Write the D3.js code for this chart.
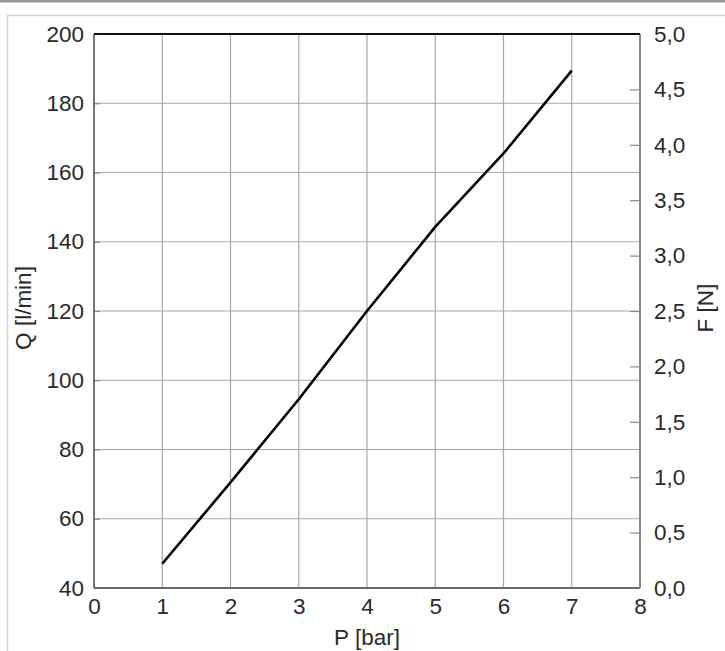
<!DOCTYPE html>
<meta http-equiv="Content-Type" content="text/html; charset=utf-8">
<body style="margin:0;background:#fff">
<script src="https://d3js.org/d3.v7.min.js" charset="utf-8"></script>
<script>
var W = 725, H = 651;
var pressure = [1, 2, 3, 4, 5, 6, 7];
var flow = [47, 70.5, 94.5, 120, 144.3, 165.5, 189.4];
var xTicks = [0, 1, 2, 3, 4, 5, 6, 7, 8];
var qTicks = [40, 60, 80, 100, 120, 140, 160, 180, 200];
var fTicks = [0, 0.5, 1, 1.5, 2, 2.5, 3, 3.5, 4, 4.5, 5];

var m = {left: 94, right: 640, top: 34, bottom: 588};
var font = "'Liberation Sans', Arial, sans-serif";
var fs = 22.5;

var svg = d3.select("body").append("svg").attr("width", W).attr("height", H);

// page frame
svg.append("rect").attr("x", 0).attr("y", 0).attr("width", W).attr("height", 2.5).attr("fill", "#9a9a9a");
svg.append("path").attr("d", "M7.5," + H + "V15.5H" + W)
	.attr("fill", "none").attr("stroke", "#d4d4d4").attr("stroke-width", 1.5);

var x = d3.scaleLinear().domain([0, 8]).range([m.left, m.right]);
var yQ = d3.scaleLinear().domain([40, 200]).range([m.bottom, m.top]);
var yF = d3.scaleLinear().domain([0, 5]).range([m.bottom, m.top]);

// grid
svg.append("g").selectAll("line").data(xTicks.slice(1, -1)).enter().append("line")
	.attr("x1", function(d){return x(d);}).attr("x2", function(d){return x(d);})
	.attr("y1", m.top).attr("y2", m.bottom)
	.attr("stroke", "#a8a8a8").attr("stroke-width", 1.2);
svg.append("g").selectAll("line").data(qTicks.slice(1, -1)).enter().append("line")
	.attr("y1", function(d){return yQ(d);}).attr("y2", function(d){return yQ(d);})
	.attr("x1", m.left).attr("x2", m.right)
	.attr("stroke", "#a8a8a8").attr("stroke-width", 1.2);

// axes
var gx = svg.append("g").attr("transform", "translate(0," + m.bottom + ")")
	.call(d3.axisBottom(x).tickValues(xTicks).tickSize(0).tickPadding(10).tickFormat(d3.format("d")));
var gl = svg.append("g").attr("transform", "translate(" + m.left + ",0)")
	.call(d3.axisLeft(yQ).tickValues(qTicks).tickSize(-6).tickPadding(10));
var gr = svg.append("g").attr("transform", "translate(" + m.right + ",0)")
	.call(d3.axisRight(yF).tickValues(fTicks).tickSize(-10).tickPadding(14)
		.tickFormat(function(d){return d3.format(".1f")(d).replace(".", ",");}));

[gx, gl, gr].forEach(function(g){
	g.select(".domain").remove();
	g.selectAll("line").attr("stroke", "#8a8a8a").attr("stroke-width", 1.2);
	g.selectAll("text").attr("font-family", font).attr("font-size", fs).attr("fill", "#2a2a2a");
});
gr.selectAll(".tick").filter(function(d){return d === 0 || d === 5;}).select("line").remove();

// plot border
svg.append("line").attr("x1", m.left).attr("x2", m.left).attr("y1", m.top).attr("y2", m.bottom).attr("stroke", "#555").attr("stroke-width", 1.6);
svg.append("line").attr("x1", m.left).attr("x2", m.right).attr("y1", m.bottom).attr("y2", m.bottom).attr("stroke", "#6a6a6a").attr("stroke-width", 1.8);
svg.append("line").attr("x1", m.right).attr("x2", m.right).attr("y1", m.top).attr("y2", m.bottom).attr("stroke", "#888").attr("stroke-width", 2);
svg.append("line").attr("x1", m.left).attr("x2", m.right).attr("y1", m.top).attr("y2", m.top).attr("stroke", "#111").attr("stroke-width", 1.8);

// curve
var line = d3.line().x(function(d, i){return x(pressure[i]);}).y(function(d){return yQ(d);});
svg.append("path").attr("d", line(flow)).attr("fill", "none")
	.attr("stroke", "#000").attr("stroke-width", 2.6).attr("stroke-linejoin", "round");

// axis titles
svg.append("text").attr("x", (m.left + m.right) / 2).attr("y", 645).attr("text-anchor", "middle")
	.attr("font-family", font).attr("font-size", fs).attr("fill", "#2a2a2a").text("P [bar]");
svg.append("text").attr("transform", "translate(31,308) rotate(-90)").attr("text-anchor", "middle")
	.attr("font-family", font).attr("font-size", fs).attr("fill", "#2a2a2a").text("Q [l/min]");
svg.append("text").attr("transform", "translate(713,308) rotate(-90)").attr("text-anchor", "middle")
	.attr("font-family", font).attr("font-size", fs).attr("fill", "#2a2a2a").text("F [N]");
</script>
</body>
</html>
